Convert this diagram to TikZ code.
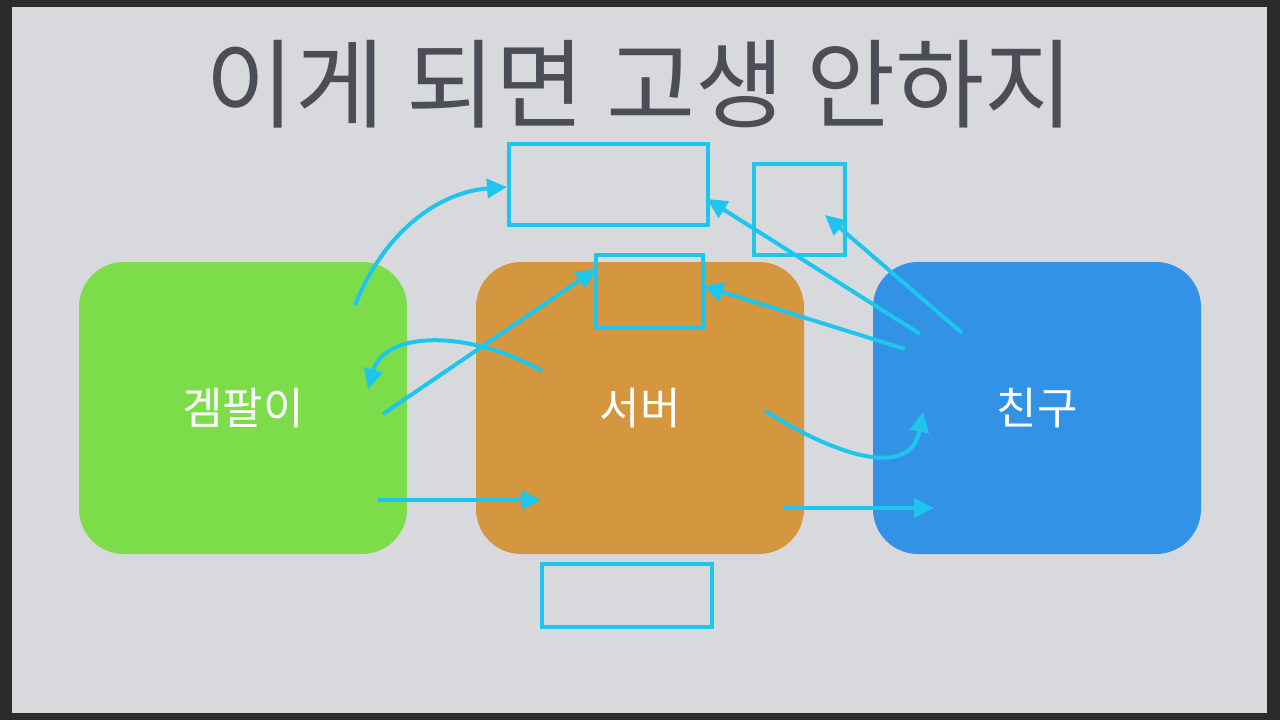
\documentclass[tikz,border=0pt]{standalone}
\usepackage{fontspec}
\newfontfamily\kr{Noto Sans CJK KR}
\usetikzlibrary{arrows.meta}
\definecolor{frame}{HTML}{2B2B2B}
\definecolor{bg}{HTML}{D8D9DC}
\definecolor{titlecol}{HTML}{4B4E56}
\definecolor{gr}{HTML}{7CDC4A}
\definecolor{org}{HTML}{D4973F}
\definecolor{blu}{HTML}{3192E6}
\definecolor{cy}{HTML}{1EC6EE}
\tikzset{
  bigbox/.style={rounded corners=45pt, draw=none, minimum width=328pt, minimum height=292pt, inner sep=0pt},
  lbl/.style={font=\kr\fontsize{44}{48}\selectfont, text=white},
  frm/.style={draw=cy, line width=3.5pt},
  arr/.style={draw=cy, line width=4pt, -{Triangle[length=20pt,width=19pt]}},
}
\begin{document}
\begin{tikzpicture}[x=1pt,y=-1pt]
\useasboundingbox (0,0) rectangle (1280,720);
\fill[frame] (0,0) rectangle (1280,720);
\fill[bg] (12,7) rectangle (1267,713);
\node[font=\kr\fontsize{97}{107}\selectfont, text=titlecol, anchor=base] (title) at (640,120) {이게 되면 고생 안하지};

\node[bigbox, fill=gr] (g) at (243,408) {};
\node[bigbox, fill=org] (s) at (640,408) {};
\node[bigbox, fill=blu] (f) at (1037,408) {};
\node[lbl] (gl) at (243,408) {겜팔이};
\node[lbl] (sl) at (640,408) {서버};
\node[lbl] (fl) at (1037,408) {친구};

\node[frm, minimum width=199pt, minimum height=81pt, inner sep=0pt] (r1) at (608.5,184.5) {};
\node[frm, minimum width=91pt, minimum height=91pt, inner sep=0pt] (r2) at (799.5,209.5) {};
\node[frm, minimum width=107pt, minimum height=73pt, inner sep=0pt] (r3) at (649.5,291.5) {};
\node[frm, minimum width=170pt, minimum height=63pt, inner sep=0pt] (r4) at (627,595.5) {};

\coordinate (a1s) at (355,305);
\coordinate (a1e) at (507,187);
\coordinate (a2s) at (542,371);
\coordinate (a2e) at (368,389);
\coordinate (a3s) at (383,414);
\coordinate (a3e) at (596,269);
\coordinate (a4s) at (378,500);
\coordinate (a4e) at (541,500);
\coordinate (a5s) at (920,334);
\coordinate (a5e) at (707,199);
\coordinate (a6s) at (962,333);
\coordinate (a6e) at (825,215);
\coordinate (a7s) at (905,349);
\coordinate (a7e) at (703,286);
\coordinate (a8s) at (765,411);
\coordinate (a8e) at (923,412);
\coordinate (a9s) at (783,508);
\coordinate (a9e) at (934,508);

\draw[arr] (a1s) .. controls (385,230) and (440,192) .. (a1e);
\draw[arr] (a2s) .. controls (470,330) and (385,330) .. (a2e);
\draw[arr] (a3s) -- (a3e);
\draw[arr] (a4s) -- (a4e);
\draw[arr] (a5s) -- (a5e);
\draw[arr] (a6s) -- (a6e);
\draw[arr] (a7s) -- (a7e);
\draw[arr] (a8s) .. controls (835,455) and (910,480) .. (a8e);
\draw[arr] (a9s) -- (a9e);
\end{tikzpicture}
\end{document}
